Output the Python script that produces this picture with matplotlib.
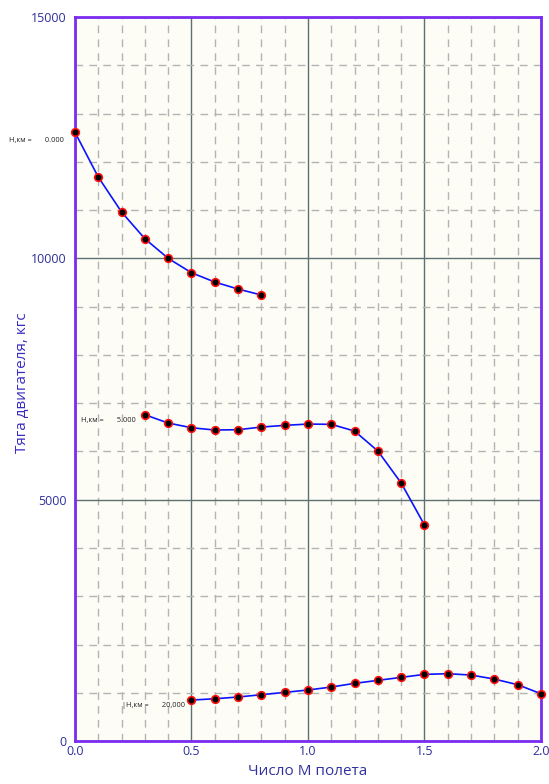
import numpy as np
import matplotlib
matplotlib.use("Agg")
import matplotlib.pyplot as plt

plt.rcParams['font.family'] = ['Open Sans', 'DejaVu Sans']

# Тяга двигателя по числу М для трёх высот
mach_h0 = [0.0, 0.1, 0.2, 0.3, 0.4, 0.5, 0.6, 0.7, 0.8]
thrust_h0 = [12610, 11684, 10959, 10406, 10000, 9702, 9509, 9364, 9240]

mach_h5 = [0.3, 0.4, 0.5, 0.6, 0.7, 0.8, 0.9, 1.0, 1.1, 1.2, 1.3, 1.4, 1.5]
thrust_h5 = [6760, 6588, 6491, 6443, 6450, 6505, 6540, 6567, 6561, 6422, 6008, 5345, 4475]

mach_h20 = [0.5, 0.6, 0.7, 0.8, 0.9, 1.0, 1.1, 1.2, 1.3, 1.4, 1.5, 1.6, 1.7, 1.8, 1.9, 2.0]
thrust_h20 = [849, 876, 912, 960, 1008, 1057, 1119, 1195, 1257, 1319, 1381, 1395, 1367, 1284, 1167, 980]

heights = ["0.000", "5.000", "20,000"]

x_major = [0.0, 0.5, 1.0, 1.5, 2.0]
y_major = [0, 5000, 10000, 15000]

fig = plt.figure(figsize=(5.49, 7.84), dpi=100)
ax = fig.add_axes([0.1366, 0.0548, 0.8488, 0.9235])
ax.set_facecolor('#fdfdf6')

ax.set_xlim(0, 2.0)
ax.set_ylim(0, 15000)
ax.set_xticks(x_major)
ax.set_xticklabels([f"{v:.1f}" for v in x_major])
ax.set_yticks(y_major)
ax.set_yticklabels([str(v) for v in y_major])
ax.set_xticks(np.arange(0, 2.01, 0.1), minor=True)
ax.set_yticks(np.arange(0, 15001, 1000), minor=True)

ax.grid(which='major', color='#5e7070', linewidth=1.0, linestyle='-')
ax.grid(which='minor', color='#b4b4b4', linewidth=1.0, linestyle=(0, (5.5, 4.5)))
ax.set_axisbelow(True)

ax.tick_params(which='both', length=0, colors='#2e2e9a', labelsize=9)
ax.tick_params(axis='x', pad=3)
ax.tick_params(axis='y', pad=6)

for s in ax.spines.values():
    s.set_color('#7a2cf0')
    s.set_linewidth(2)

for m, t in [(mach_h0, thrust_h0), (mach_h5, thrust_h5), (mach_h20, thrust_h20)]:
    ax.plot(m, t, color='#0a14ff', linewidth=1.2, marker='o', markersize=5.5,
            markerfacecolor='black', markeredgecolor='#ff1010', markeredgewidth=1.2,
            zorder=3, clip_on=False)

# подписи высот
ax.text(-0.283, 12450, f"Н,км =       {heights[0]}", fontsize=5.3, color='#222222',
        va='center', clip_on=False)
ax.text(0.025, 6640, f"Н,км =       {heights[1]}", fontsize=5.3, color='#222222',
        va='center')
ax.text(0.2, 730, f"|Н,км =       {heights[2]}", fontsize=5.3, color='#222222',
        va='center')

ax.set_xlabel("Число М полета", fontsize=11, color='#3030a0', labelpad=4)
ax.set_ylabel("Тяга двигателя, кгс", fontsize=11, color='#3a2cc0')
ax.yaxis.set_label_coords(-0.097, 0.495)

fig.savefig("out.png", dpi=100)
